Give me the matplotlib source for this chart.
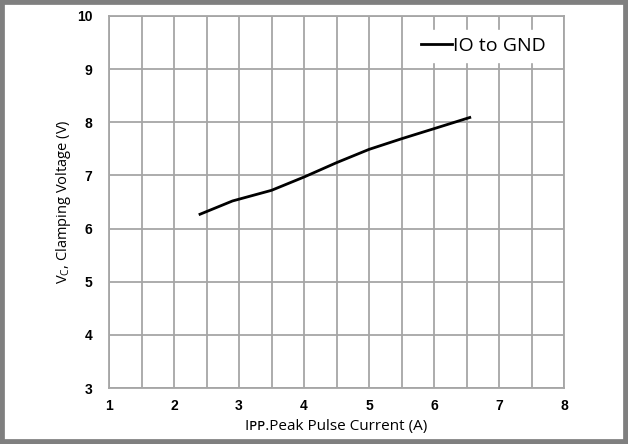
import matplotlib
matplotlib.use("Agg")
import matplotlib.pyplot as plt
from matplotlib.patches import Rectangle

plt.rcParams["font.family"] = ["Open Sans", "DejaVu Sans"]

# data
corrente = [2.4, 2.9, 3.5, 4.0, 4.5, 5.0, 5.5, 6.0, 6.55]
tensao = [6.27, 6.52, 6.72, 6.97, 7.24, 7.49, 7.69, 7.88, 8.09]

x_ticks = [1, 2, 3, 4, 5, 6, 7, 8]
y_ticks = [3, 4, 5, 6, 7, 8, 9, 10]

GRADE = "#a6a6a6"

fig = plt.figure(figsize=(6.28, 4.44), dpi=100)
ax = fig.add_axes([0.1736, 0.126, 0.7245, 0.838])

ax.plot(corrente, tensao, color="black", linewidth=2.0, label="IO to GND", zorder=3)

ax.set_xlim(1, 8)
ax.set_ylim(3, 10)
ax.set_xticks(x_ticks)
ax.set_yticks(y_ticks)
ax.set_xticks([1.5 + i for i in range(7)], minor=True)
ax.grid(True, which="both", color=GRADE, linewidth=1.3)
ax.tick_params(which="both", length=0)
ax.tick_params(axis="x", pad=8)
ax.tick_params(axis="y", pad=12)
for lab in ax.get_xticklabels() + ax.get_yticklabels():
    lab.set_fontweight("bold")
    lab.set_fontsize(10)
    lab.set_family(["Liberation Sans", "DejaVu Sans"])
for s in ax.spines.values():
    s.set_color(GRADE)
    s.set_linewidth(1.3)

ax.set_xlabel("Iᴘᴘ.Peak Pulse Current (A)", fontsize=11, labelpad=4)
ax.set_ylabel("V$_\\mathregular{C}$, Clamping Voltage (V)", fontsize=10.5, labelpad=3)

leg = ax.legend(loc="center", bbox_to_anchor=(0.823, 0.92), fontsize=14,
                frameon=True, fancybox=False, handlelength=1.6,
                handletextpad=0.05, borderpad=0.35)
leg.get_frame().set_edgecolor("white")
leg.get_frame().set_alpha(1)

# moldura cinza da imagem
fig.patches.append(Rectangle((0, 0), 1, 1, transform=fig.transFigure,
                             fill=False, edgecolor="#7f7f7f", linewidth=7))

fig.savefig("out.png", dpi=100)
